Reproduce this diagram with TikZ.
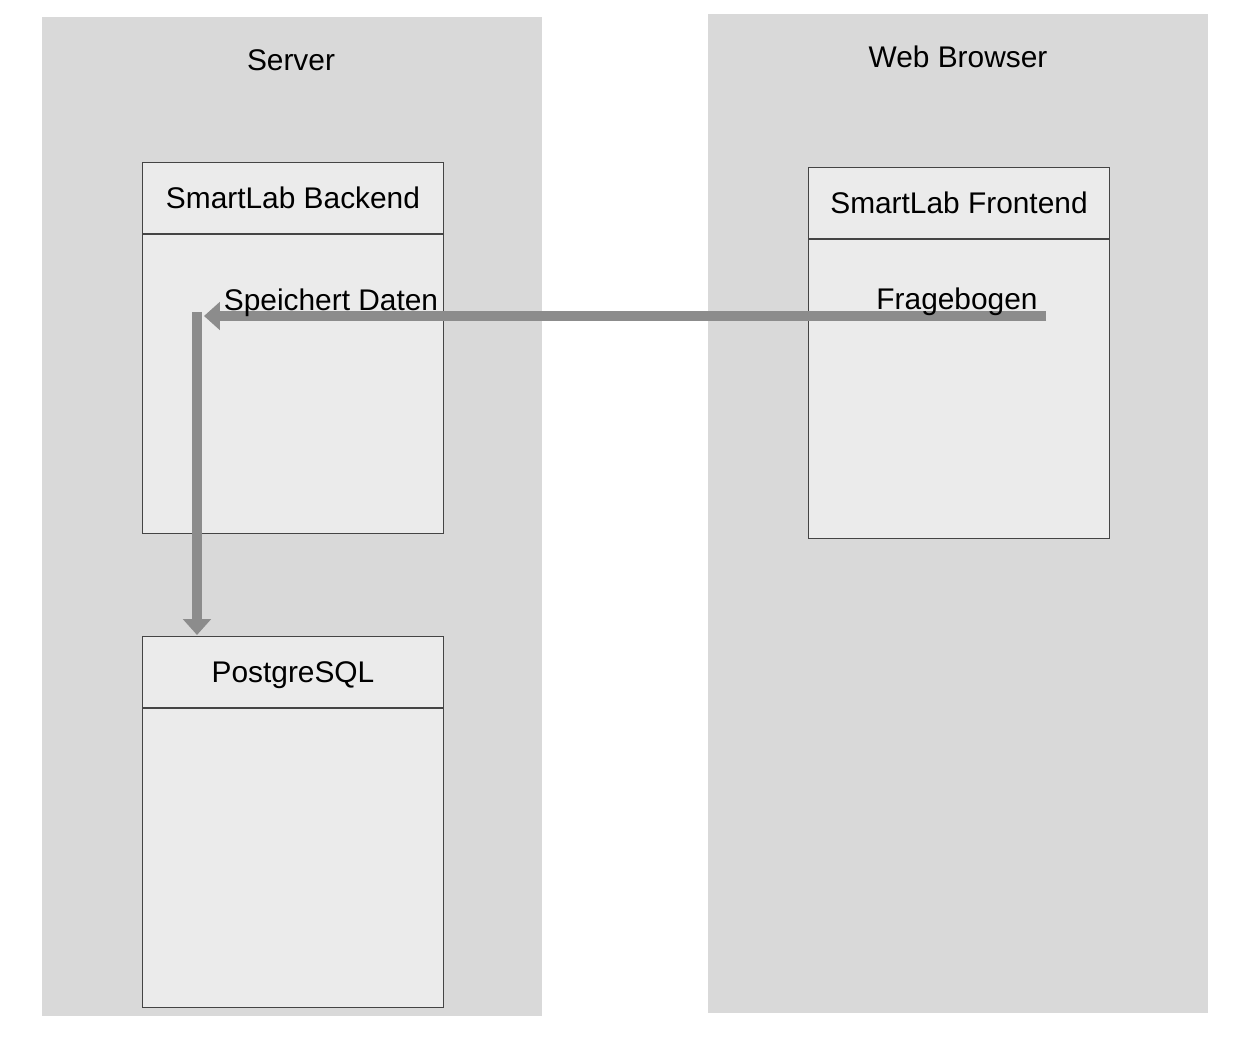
\documentclass[tikz,border=0pt]{standalone}
\usepackage{fontspec}
\setmainfont{Liberation Sans}
\usetikzlibrary{arrows.meta}

\definecolor{panelgray}{HTML}{D9D9D9}
\definecolor{boxgray}{HTML}{EBEBEB}
\definecolor{flowgray}{HTML}{8C8C8C}
\definecolor{edgegray}{HTML}{444444}

\begin{document}
\begin{tikzpicture}[x=0.02cm, y=-0.02cm]
		\tikzset{panel/.style={fill=panelgray, draw=none, anchor=north west, inner sep=0, minimum width=10cm, minimum height=19.98cm}};
		\tikzset{boxhead/.style={fill=boxgray, draw=edgegray, line width=0.6pt, anchor=north west, inner sep=0, minimum width=6.02cm, minimum height=1.42cm, font=\fontsize{17}{20}\selectfont, text depth=0pt}};
		\tikzset{boxbody/.style={fill=boxgray, draw=edgegray, line width=0.6pt, anchor=north, inner sep=0, minimum width=6.02cm, minimum height=5.98cm}};
		\tikzset{lbl/.style={font=\fontsize{17}{20}\selectfont, inner sep=0}};
		\tikzset{flow/.style={draw=flowgray, line width=5.7pt, -{Triangle[length=9pt, width=15.5pt]}}};

		\useasboundingbox (0, 0) rectangle (1259, 1050);

		\node[panel] (server) at (42, 17) {};
		\node[panel] (browser) at (708, 14) {};

		\node[lbl] (srvname) at (291, 60) {Server};
		\node[lbl] (brwname) at (958, 57) {Web Browser};

		\node[boxhead] (bhead) at (142, 162) {SmartLab Backend};
		\node[boxbody] (bbody) at (bhead.south) {};
		\node[boxhead] (fhead) at (808, 167) {SmartLab Frontend};
		\node[boxbody] (fbody) at (fhead.south) {};
		\node[boxhead] (phead) at (142, 636) {PostgreSQL};
		\node[boxbody] (pbody) at (phead.south) {};

		\coordinate (qstart) at (1046, 316);
		\coordinate (qend) at (204, 316);
		\coordinate (sstart) at (197, 312);
		\coordinate (send) at (197, 635);

		\draw[flow] (qstart) to (qend);
		\draw[flow] (sstart) to (send);

		\node[lbl] (store) at (331, 303) {Speichert Daten};
		\node[lbl] (quest) at (957, 302) {Fragebogen};
	\end{tikzpicture}
\end{document}
